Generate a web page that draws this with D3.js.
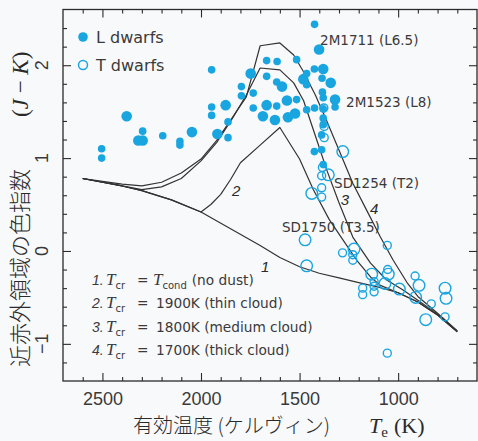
<!DOCTYPE html>
<html>
<head>
<meta charset="utf-8">
<script src="https://cdn.jsdelivr.net/npm/d3@7"></script>
<style>
    body { margin: 0; background: #f8f9fb; }
    svg { display: block; }
</style>
</head>
<body>
<svg></svg>
<script>
// L dwarfs (filled): Teff (K), J-K, sample group
const lTeff = [2504, 2504, 2377, 2296, 2318, 2296, 2194, 2107, 2107, 2046,
    1946, 1946, 1946, 1875, 1917, 1863, 1863, 1795, 1795, 1748,
    1735, 1735, 1667, 1614, 1667, 1616, 1589, 1667, 1616, 1686,
    1625, 1564, 1515, 1559, 1523, 1515, 1481, 1464, 1464, 1425,
    1380, 1424, 1401, 1464, 1424, 1386, 1384, 1380, 1342, 1320,
    1320, 1380, 1380, 1380, 1388, 1425, 1388, 1380];
const lJK = [1.10, 1.00, 1.45, 1.29, 1.19, 1.19, 1.24, 1.18, 1.14, 1.28,
    1.95, 1.55, 1.46, 1.57, 1.26, 1.39, 1.22, 1.77, 1.67, 1.91,
    1.70, 1.54, 2.05, 2.04, 1.88, 1.82, 1.77, 1.57, 1.56, 1.45,
    1.41, 1.62, 1.63, 1.44, 1.48, 2.06, 1.85, 1.91, 1.79, 1.96,
    1.96, 2.44, 2.17, 1.52, 1.54, 1.86, 1.71, 1.65, 1.81, 1.63,
    1.55, 1.53, 1.43, 1.36, 1.25, 1.07, 1.09, 0.93];
const lGroup = ['b', 'b', 'a', 'b', 'a', 'a', 'b', 'b', 'b', 'a',
    'b', 'b', 'b', 'a', 'a', 'b', 'b', 'b', 'b', 'a',
    'b', 'b', 'b', 'b', 'b', 'b', 'a', 'a', 'b', 'a',
    'a', 'a', 'b', 'a', 'a', 'b', 'a', 'b', 'b', 'b',
    'a', 'b', 'a', 'b', 'b', 'b', 'b', 'b', 'a', 'a',
    'b', 'b', 'b', 'b', 'b', 'b', 'b', 'b'];

// T dwarfs (open)
const tTeff = [1377, 1375, 1375, 1281, 1384, 1354, 1388, 1388, 1438, 1388,
    1472, 1464, 1282, 1224, 1230, 1230, 1055, 1134, 1053, 1050,
    1122, 1122, 1122, 1180, 1180, 1067, 994, 914, 894, 911,
    832, 860, 762, 757, 762, 1055];
const tJK = [1.54, 1.34, 1.22, 1.07, 0.90, 0.82, 0.81, 0.68, 0.62, 0.58,
    0.12, -0.16, -0.02, 0.02, -0.04, -0.10, 0.06, -0.25, -0.20, -0.25,
    -0.33, -0.38, -0.44, -0.40, -0.47, -0.35, -0.41, -0.27, -0.37, -0.50,
    -0.57, -0.74, -0.40, -0.51, -0.71, -1.10];
const tGroup = ['b', 'b', 'b', 'a', 'b', 'a', 'b', 'b', 'a', 'b',
    'a', 'a', 'b', 'a', 'b', 'b', 'b', 'a', 'b', 'a',
    'b', 'b', 'b', 'b', 'b', 'a', 'a', 'b', 'a', 'a',
    'b', 'a', 'a', 'a', 'b', 'b'];

// model tracks [Teff, J-K]
const modelNoDust = [[2600, 0.78], [2400, 0.70], [2300, 0.65], [2150, 0.55], [2000, 0.42],
    [1850, 0.24], [1700, 0.06], [1600, -0.07], [1500, -0.17], [1400, -0.24], [1300, -0.29],
    [1200, -0.34], [1100, -0.39], [1000, -0.45], [900, -0.55], [800, -0.69], [700, -0.87]];
const modelThin = [[2600, 0.78], [2400, 0.70], [2300, 0.65], [2150, 0.55], [2000, 0.42],
    [1950, 0.50], [1900, 0.61], [1850, 0.77], [1800, 0.95], [1700, 1.14], [1600, 1.33],
    [1500, 0.99], [1430, 0.66], [1350, 0.34], [1280, 0.12], [1210, -0.10], [1140, -0.28],
    [1090, -0.37], [1000, -0.45], [900, -0.55], [800, -0.69], [700, -0.87]];
const modelMedium = [[2600, 0.78], [2400, 0.70], [2300, 0.66], [2200, 0.69], [2100, 0.78],
    [2000, 0.97], [1920, 1.17], [1840, 1.43], [1770, 1.68], [1700, 1.97], [1600, 1.95],
    [1530, 1.81], [1480, 1.62], [1420, 1.24], [1360, 0.86], [1300, 0.52], [1230, 0.15],
    [1140, -0.13], [1060, -0.31], [975, -0.42], [900, -0.53], [800, -0.68], [700, -0.86]];
const modelThick = [[2600, 0.78], [2400, 0.72], [2300, 0.70], [2200, 0.74], [2100, 0.84],
    [2000, 0.99], [1920, 1.19], [1840, 1.44], [1770, 1.66], [1700, 2.21], [1600, 2.24],
    [1530, 2.11], [1480, 1.93], [1420, 1.68], [1370, 1.44], [1295, 1.06], [1230, 0.73],
    [1160, 0.44], [1090, 0.15], [1025, -0.10], [955, -0.34], [900, -0.49], [800, -0.67],
    [700, -0.86]];

const curveNum = ['1', '2', '3', '4'];
const curveNumTeff = [1675, 1822, 1270, 1122];
const curveNumJK = [-0.23, 0.59, 0.50, 0.40];

const annotText = ['2M1711 (L6.5)', '2M1523 (L8)', 'SD1254 (T2)', 'SD1750 (T3.5)'];
const annotTeff = [1396, 1264, 1325, 1589];
const annotJK = [2.22, 1.55, 0.68, 0.20];

const xTickLabels = [2500, 2000, 1500, 1000];
const yTickLabels = [2, 1, 0, -1];

const modelNo = ['1.', '2.', '3.', '4.'];
const modelTcr = ['', '1900K', '1800K', '1700K'];
const modelNote = ['(no dust)', '(thin cloud)', '(medium cloud)', '(thick cloud)'];

const width = 478, height = 441;
const plotLeft = 63, plotRight = 477, plotTop = 9.5, plotBottom = 381;
const blue = '#19a5e0';
const ink = '#2a2a2a';

const svg = d3.select('svg')
    .attr('width', width)
    .attr('height', height)
    .attr('font-family', '"DejaVu Sans", sans-serif');

svg.append('rect').attr('width', width).attr('height', height).attr('fill', '#f8f9fb');

const x = d3.scaleLinear().domain([2700, 600]).range([plotLeft, plotRight]);
const y = d3.scaleLinear().domain([2.6, -1.4]).range([plotTop, plotBottom]);
const rFill = d3.scaleOrdinal().domain(['a', 'b']).range([5.3, 3.8]);
const rOpen = d3.scaleOrdinal().domain(['a', 'b']).range([5.8, 4.0]);

let xMinor = d3.range(2600, 650, -100).filter(v => !xTickLabels.includes(v));
let yMinor = d3.range(-6, 13).map(i => i / 5).filter(v => !Number.isInteger(v));

function addAxis(axis, transform) {
    return svg.append('g')
        .attr('transform', transform)
        .call(axis)
        .call(g => g.select('.domain').remove())
        .attr('color', ink)
        .call(g => g.selectAll('line').attr('stroke-width', 1.1));
}

addAxis(d3.axisBottom(x).tickValues(xMinor).tickSize(-4).tickFormat(''), `translate(0,${plotBottom})`);
addAxis(d3.axisBottom(x).tickValues(xTickLabels).tickSize(-8).tickPadding(11).tickFormat(d3.format('d')),
    `translate(0,${plotBottom})`)
    .attr('font-size', 18)
    .attr('font-family', '"Liberation Sans", sans-serif')
    .call(g => g.selectAll('text').attr('fill', '#3a3a3a'));
addAxis(d3.axisTop(x).tickValues(xMinor).tickSize(-4).tickFormat(''), `translate(0,${plotTop})`);
addAxis(d3.axisTop(x).tickValues(xTickLabels).tickSize(-8).tickFormat(''), `translate(0,${plotTop})`);
addAxis(d3.axisLeft(y).tickValues(yMinor).tickSize(-4).tickFormat(''), `translate(${plotLeft},0)`);
addAxis(d3.axisLeft(y).tickValues(yTickLabels).tickSize(-8).tickFormat(''), `translate(${plotLeft},0)`);
addAxis(d3.axisRight(y).tickValues(yMinor).tickSize(-4).tickFormat(''), `translate(${plotRight},0)`);
addAxis(d3.axisRight(y).tickValues(yTickLabels).tickSize(-8).tickFormat(''), `translate(${plotRight},0)`);

// rotated y tick labels
svg.append('g')
    .selectAll('text')
    .data(yTickLabels)
    .enter()
    .append('text')
    .attr('transform', d => `translate(42,${y(d)}) rotate(-90)`)
    .attr('text-anchor', 'middle')
    .attr('dy', '0.36em')
    .attr('font-family', '"Liberation Sans", sans-serif')
    .attr('font-size', 18)
    .attr('fill', '#3a3a3a')
    .text(d => d < 0 ? '\u2212' + Math.abs(d) : d);

// frame
svg.append('rect')
    .attr('x', plotLeft).attr('y', plotTop)
    .attr('width', plotRight - plotLeft).attr('height', plotBottom - plotTop)
    .attr('fill', 'none')
    .attr('stroke', ink)
    .attr('stroke-width', 1.3);

// model curves
let line = d3.line().x(d => x(d[0])).y(d => y(d[1]));
svg.append('g')
    .selectAll('path')
    .data([modelNoDust, modelThin, modelMedium, modelThick])
    .enter()
    .append('path')
    .attr('d', line)
    .attr('fill', 'none')
    .attr('stroke', '#333')
    .attr('stroke-width', 1.2)
    .attr('stroke-linejoin', 'round');

svg.append('g')
    .selectAll('text')
    .data(curveNum)
    .enter()
    .append('text')
    .attr('x', (d, i) => x(curveNumTeff[i]))
    .attr('y', (d, i) => y(curveNumJK[i]))
    .attr('text-anchor', 'middle')
    .attr('font-family', '"Liberation Sans", sans-serif')
    .attr('font-style', 'italic')
    .attr('font-size', 15)
    .attr('fill', ink)
    .text(d => d);

// T dwarfs
svg.append('g')
    .selectAll('circle')
    .data(tTeff)
    .enter()
    .append('circle')
    .attr('cx', d => x(d))
    .attr('cy', (d, i) => y(tJK[i]))
    .attr('r', (d, i) => rOpen(tGroup[i]))
    .attr('fill', 'none')
    .attr('stroke', blue)
    .attr('stroke-width', 1.4);

// L dwarfs
svg.append('g')
    .selectAll('circle')
    .data(lTeff)
    .enter()
    .append('circle')
    .attr('cx', d => x(d))
    .attr('cy', (d, i) => y(lJK[i]))
    .attr('r', (d, i) => rFill(lGroup[i]))
    .attr('fill', blue);

// object names
svg.append('g')
    .selectAll('text')
    .data(annotText)
    .enter()
    .append('text')
    .attr('x', (d, i) => x(annotTeff[i]))
    .attr('y', (d, i) => y(annotJK[i]))
    .attr('font-size', 13.5)
    .attr('fill', '#3a3a3a')
    .text(d => d);

// legend: dwarfs
let legend = svg.append('g').attr('font-size', 16).attr('fill', '#3a3a3a');
legend.append('circle').attr('cx', 83).attr('cy', 37).attr('r', 4.8).attr('fill', blue);
legend.append('circle').attr('cx', 83).attr('cy', 65).attr('r', 4.5)
    .attr('fill', 'none').attr('stroke', blue).attr('stroke-width', 1.5);
legend.append('text').attr('x', 96).attr('y', 43).text('L dwarfs');
legend.append('text').attr('x', 96).attr('y', 71).text('T dwarfs');

// legend: models
let models = svg.append('g').attr('fill', '#3a3a3a').attr('font-size', 13.7);
modelNo.forEach((num, i) => {
    let t = models.append('text').attr('x', 92).attr('y', 285 + i * 23.3);
    t.append('tspan').attr('font-family', '"Liberation Sans", sans-serif')
        .attr('font-style', 'italic').attr('font-size', 14).text(num);
    t.append('tspan').attr('x', 106).attr('font-family', '"Liberation Serif", serif')
        .attr('font-style', 'italic').attr('font-size', 17).text('T');
    t.append('tspan').attr('font-size', 10).attr('dy', 4).text('cr');
    t.append('tspan').attr('x', 137).attr('dy', -4).text('=');
    if (i === 0) {
        t.append('tspan').attr('x', 153).attr('font-family', '"Liberation Serif", serif')
            .attr('font-style', 'italic').attr('font-size', 17).text('T');
        t.append('tspan').attr('font-size', 10).attr('dy', 4).text('cond');
        t.append('tspan').attr('dy', -4).attr('dx', 5).text(modelNote[i]);
    } else {
        t.append('tspan').attr('x', 156).text(`${modelTcr[i]} ${modelNote[i]}`);
    }
});

// axis titles
let xTitle = svg.append('text').attr('y', 433).attr('fill', '#2a2a2a');
xTitle.append('tspan').attr('x', 133)
    .attr('font-family', '"Noto Sans CJK JP", sans-serif')
    .attr('font-weight', 300)
    .attr('font-size', 20)
    .text('有効温度 (ケルヴィン)');
xTitle.append('tspan').attr('x', 369)
    .attr('font-family', '"Liberation Serif", serif')
    .attr('font-style', 'italic').attr('font-size', 22).text('T');
xTitle.append('tspan').attr('font-family', '"Liberation Serif", serif')
    .attr('font-size', 15).attr('dy', 4).text('e');
xTitle.append('tspan').attr('font-family', '"Liberation Serif", serif')
    .attr('font-size', 22).attr('dy', -4).attr('dx', 6).text('(K)');

svg.append('text')
    .attr('transform', 'translate(28,367) rotate(-90)')
    .attr('font-family', '"Noto Sans CJK JP", sans-serif')
    .attr('font-weight', 300)
    .attr('font-size', 22)
    .attr('fill', '#2a2a2a')
    .text('近赤外領域の色指数');

let yTitle = svg.append('text')
    .attr('transform', 'translate(28,117) rotate(-90)')
    .attr('font-family', '"Liberation Serif", serif')
    .attr('font-size', 23)
    .attr('fill', '#2a2a2a');
yTitle.append('tspan').text('(');
yTitle.append('tspan').attr('font-style', 'italic').text('J');
yTitle.append('tspan').text(' \u2212 ');
yTitle.append('tspan').attr('font-style', 'italic').text('K');
yTitle.append('tspan').text(')');
</script>
</body>
</html>
